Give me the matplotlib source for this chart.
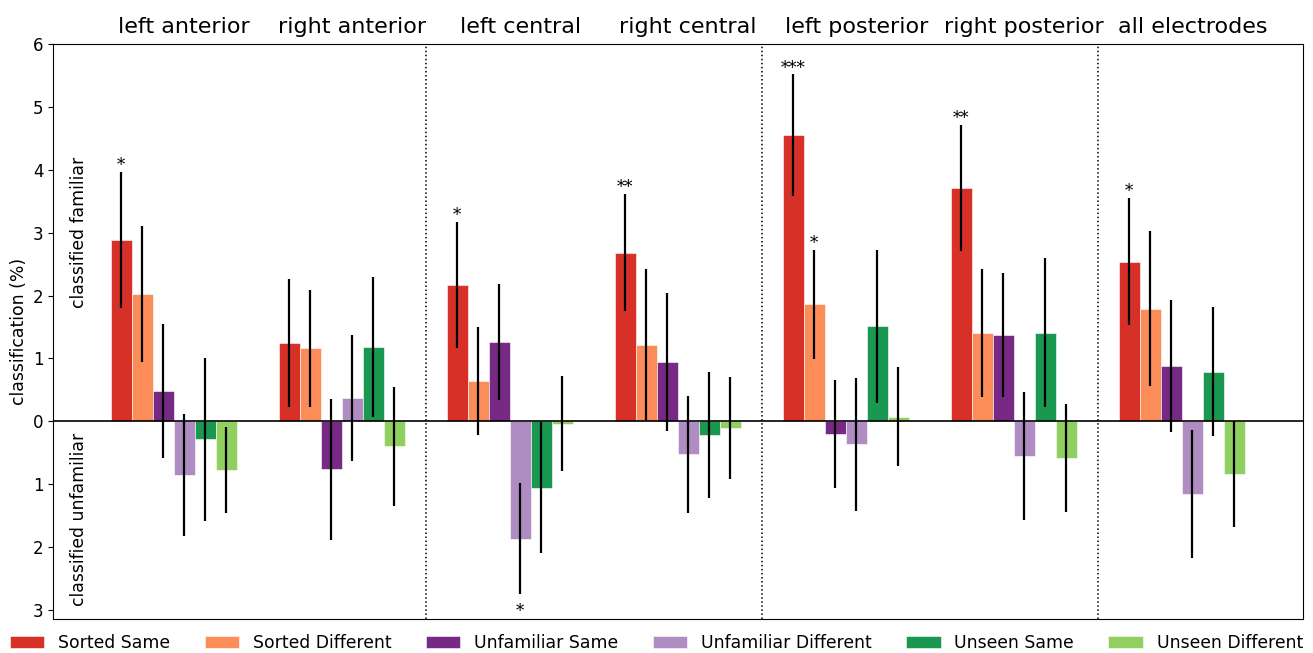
import matplotlib
matplotlib.use("Agg")
import matplotlib.pyplot as plt
import numpy as np

plt.rcParams['font.family'] = ['DejaVu Sans']

groups = ['left anterior', 'right anterior', 'left central', 'right central',
          'left posterior', 'right posterior', 'all electrodes']
conditions = ['Sorted Same', 'Sorted Different', 'Unfamiliar Same',
              'Unfamiliar Different', 'Unseen Same', 'Unseen Different']
colors = ['#d73027', '#fc8d59', '#762a83', '#af8dc3', '#1a9850', '#91cf60']

sorted_same = [2.88, 1.24, 2.17, 2.68, 4.55, 3.71, 2.54]
sorted_diff = [2.02, 1.16, 0.64, 1.22, 1.86, 1.41, 1.79]
unfam_same = [0.48, -0.77, 1.26, 0.94, -0.21, 1.37, 0.88]
unfam_diff = [-0.86, 0.37, -1.87, -0.53, -0.37, -0.55, -1.16]
unseen_same = [-0.29, 1.18, -1.06, -0.22, 1.51, 1.41, 0.79]
unseen_diff = [-0.78, -0.40, -0.04, -0.11, 0.07, -0.58, -0.84]

sorted_same_err = [1.08, 1.02, 1.00, 0.93, 0.97, 1.00, 1.01]
sorted_diff_err = [1.08, 0.93, 0.86, 1.20, 0.87, 1.02, 1.23]
unfam_same_err = [1.07, 1.13, 0.92, 1.10, 0.86, 0.99, 1.05]
unfam_diff_err = [0.97, 1.00, 0.89, 0.93, 1.06, 1.02, 1.02]
unseen_same_err = [1.30, 1.12, 1.04, 1.00, 1.22, 1.19, 1.03]
unseen_diff_err = [0.68, 0.95, 0.76, 0.81, 0.79, 0.86, 0.85]

sig_group = [0, 2, 2, 3, 4, 4, 5, 6]
sig_cond = [0, 0, 3, 0, 0, 1, 0, 0]
sig_label = ['*', '*', '*', '**', '***', '*', '**', '*']

yticks = [-3, -2, -1, 0, 1, 2, 3, 4, 5, 6]

values = [sorted_same, sorted_diff, unfam_same, unfam_diff, unseen_same, unseen_diff]
errors = [sorted_same_err, sorted_diff_err, unfam_same_err, unfam_diff_err,
          unseen_same_err, unseen_diff_err]

fig = plt.figure(figsize=(13.13, 6.53), dpi=100)
ax = fig.add_axes([0.0407, 0.0521, 0.9515, 0.8801])

w = 0.125
x = np.arange(len(groups))
for k, (vals, errs) in enumerate(zip(values, errors)):
    pos = x + (k - 2.5) * w
    ax.bar(pos, vals, width=w, color=colors[k], label=conditions[k], zorder=2,
           edgecolor='white', linewidth=0.4)
    ax.errorbar(pos, vals, yerr=errs, fmt='none', ecolor='black',
                elinewidth=1.6, capsize=0, zorder=3)

for g, c, lab in zip(sig_group, sig_cond, sig_label):
    v = values[c][g]
    e = errors[c][g]
    px = g + (c - 2.5) * w
    if v >= 0:
        ax.annotate(lab, xy=(px, v + e), xytext=(0, -1.5), textcoords='offset points',
                    ha='center', va='bottom', fontsize=12, family='DejaVu Serif')
    else:
        ax.annotate(lab, xy=(px, v - e), xytext=(0, -6), textcoords='offset points',
                    ha='center', va='top', fontsize=12, family='DejaVu Serif')

ax.axhline(0, color='black', lw=1.2, zorder=4)
for xv in [1.5, 3.5, 5.5]:
    ax.axvline(xv, color='black', ls=':', lw=1.1)

ax.set_xlim(-0.715, 6.72)
ax.set_ylim(-3.15, 6)
ax.set_xticks([])
ax.set_yticks(yticks)
ax.set_yticklabels([str(abs(t)) for t in yticks], fontsize=12)
ax.set_ylabel('classification (%)', fontsize=12.4)

for i, g in enumerate(groups):
    ax.annotate(g, xy=(i + w / 2, 1), xycoords=('data', 'axes fraction'),
                xytext=(0, 8), textcoords='offset points',
                ha='center', va='baseline', fontsize=16)

ax.text(-0.5625, 3.0, 'classified familiar', rotation=90, ha='center', va='center', fontsize=12.4)
ax.text(-0.5625, -1.57, 'classified unfamiliar', rotation=90, ha='center', va='center', fontsize=12.4)

fig.legend(loc='lower center', ncol=6, frameon=False, fontsize=12.4,
           bbox_to_anchor=(0.5, -0.022))

fig.savefig('out.png', dpi=100)
